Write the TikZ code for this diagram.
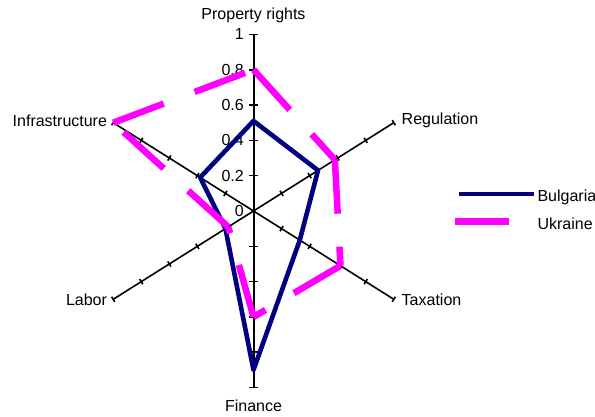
\documentclass[tikz,border=0pt]{standalone}
\usepackage{fontspec}
\setmainfont{Liberation Sans}
\usetikzlibrary{positioning}
\definecolor{bgnavy}{HTML}{000080}
\definecolor{uamagenta}{HTML}{FF00FF}

\begin{document}
\begin{tikzpicture}[x=1pt,y=-1pt,font=\fontsize{16}{19}\selectfont,
  axis/.style={black,line width=1.6pt},
  bgline/.style={bgnavy,line width=4.6pt,line join=round},
  ualine/.style={uamagenta,line width=6.5pt,dash pattern=on 54pt off 33pt}]

\useasboundingbox (0,0) rectangle (595,417);

\begin{scope}[shift={(253.5,211)},x={(162pt,0pt)},y={(0pt,176.6pt)}]
\coordinate (o) at (0,0);
\coordinate (pr) at (90:1);
\coordinate (reg) at (30:1);
\coordinate (tax) at (-30:1);
\coordinate (fin) at (-90:1);
\coordinate (lab) at (210:1);
\coordinate (inf) at (150:1);

% axes
\draw[axis,line width=2pt] (pr) -- (fin);
\draw[axis] (o) -- (reg);
\draw[axis] (o) -- (tax);
\draw[axis] (o) -- (lab);
\draw[axis] (o) -- (inf);

\foreach \v in {0.2,0.4,...,1.0} {
  \draw[axis] (90:\v) ++(-4.5pt,0pt) -- ++(9pt,0pt);
  \draw[axis] (-90:\v) ++(-4.5pt,0pt) -- ++(9pt,0pt);
}
\foreach \a/\t in {30/32.2,-30/-32.2,210/212.2,150/147.8}
  \foreach \v in {0.2,0.4,...,1.0}
    \draw[axis] (\a:\v) ++(\t+90:3pt) -- ++(\t-90:6pt);

% value labels
\foreach \v/\txt in {0/0,0.2/0.2,0.4/0.4,0.6/0.6,0.8/0.8,1/1}
  \node[anchor=east,inner sep=0pt] at ([xshift=-9.5pt]90:\v) {\txt};

% category labels
\node[above=8.5pt of pr] (lpr) {Property rights};
\node[right=4.4pt of reg,yshift=2pt] (lreg) {Regulation};
\node[right=4.4pt of tax] (ltax) {Taxation};
\node[below=9pt of fin] (lfin) {Finance};
\node[left=2.7pt of lab] (llab) {Labor};
\node[left=2.7pt of inf,yshift=2pt] (linf) {Infrastructure};

% Bulgaria
\draw[bgline] (90:0.51) -- (30:0.46) -- (-30:0.33) -- (-90:0.9)
  -- (210:0.2) -- (150:0.38) -- cycle;

% Ukraine, dashes start again at every corner
\draw[ualine] (90:0.8) -- (30:0.58);
\draw[ualine] (30:0.58) -- (-30:0.62);
\draw[ualine] (-30:0.62) -- (-90:0.6);
\draw[ualine] (-90:0.6) -- (210:0.18);
\draw[ualine] (210:0.18) -- (150:1);
\draw[ualine] (150:1) -- (90:0.8);
\end{scope}

% legend
\coordinate (bg1) at (459,194);
\coordinate (bg2) at (534,194);
\coordinate (ua1) at (455,221.7);
\coordinate (ua2) at (534,221.7);
\draw[bgline] (bg1) -- (bg2);
\draw[ualine] (ua1) -- (ua2);
\node[right=0pt of bg2,yshift=-3pt] (lbg) {Bulgaria};
\node[right=0pt of ua2,yshift=-2.5pt] (lua) {Ukraine};

\end{tikzpicture}
\end{document}
